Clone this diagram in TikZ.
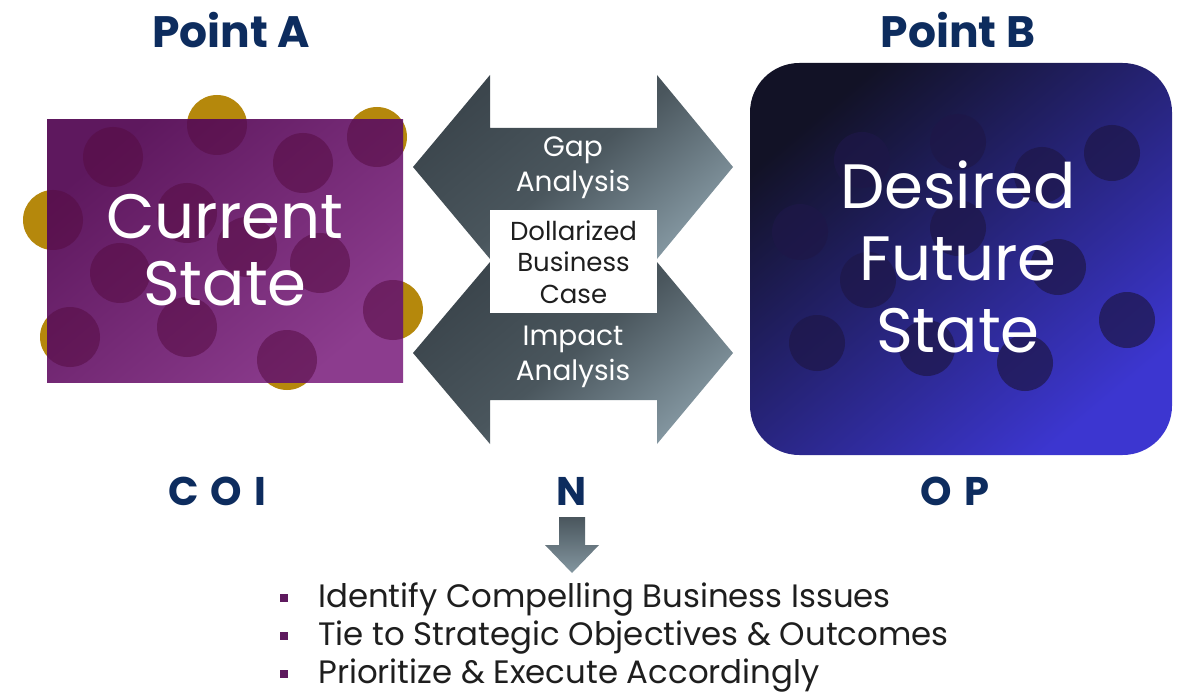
\documentclass[tikz,border=0pt]{standalone}
\usepackage{fontspec}
\setmainfont{Poppins}
\definecolor{navy}{HTML}{0D2C5E}
\definecolor{plumA}{HTML}{5E185E}
\definecolor{plumB}{HTML}{8C3C8E}
\definecolor{plumdot}{HTML}{560C42}
\definecolor{gold}{HTML}{B5880C}
\definecolor{slateA}{HTML}{3B454C}
\definecolor{slateM}{HTML}{4A565D}
\definecolor{slateB}{HTML}{8396A0}
\definecolor{nightA}{HTML}{121226}
\definecolor{nightM}{HTML}{2B2A7C}
\definecolor{nightB}{HTML}{3C36D0}
\definecolor{nightdot}{HTML}{1E1748}
\definecolor{bulletc}{HTML}{5E1A5E}
\definecolor{textc}{HTML}{1E1E1E}
\begin{document}
\begin{tikzpicture}[x=0.75pt,y=-0.75pt,
  heading/.style={font=\fontsize{33}{39}\selectfont\bfseries, text=navy, inner sep=0pt},
  tag/.style={font=\fontsize{30}{36}\selectfont\bfseries, text=navy, inner sep=0pt},
  bigtext/.style={font=\fontsize{47}{54}\selectfont, text=white, align=center, inner sep=0pt},
  arrowtext/.style={font=\fontsize{21}{25}\selectfont, text=white, align=center, inner sep=0pt},
  boxtext/.style={font=\fontsize{19.5}{22.5}\selectfont, text=textc, align=center, inner sep=0pt},
  listtext/.style={font=\fontsize{24.3}{29}\selectfont, text=textc, inner sep=0pt, anchor=base west},
  twoway/.style={top color=slateA, bottom color=slateB, middle color=slateM, shading angle=40},
  goldspot/.style={fill=gold},
  plumspot/.style={fill=plumdot, fill opacity=0.55},
  nightspot/.style={fill=nightdot, fill opacity=0.7},
  bulletsq/.style={fill=bulletc, draw=none, minimum size=6.5pt, inner sep=0pt}
]
\useasboundingbox (0,0) rectangle (1184,695);

% ---------- Point A: current state ----------
\foreach \cx/\cy in {217/125, 377/137, 53/220, 70/337, 287/360, 393/310}
  \fill[goldspot] (\cx,\cy) circle[radius=30];
\path[top color=plumA, bottom color=plumB, shading angle=40] (47,120) rectangle (403,382);
\begin{scope}
  \clip (47,120) rectangle (403,382);
  \foreach \cx/\cy in {113/157, 217/125, 303/163, 377/137, 187/213, 53/220, 247/247,
                       320/263, 120/273, 393/310, 70/337, 187/327, 287/360}
    \fill[plumspot] (\cx,\cy) circle[radius=30];
\end{scope}
\node[bigtext] (cur) at (225,250) {Current\\[-4pt]State};

% ---------- Point B: desired future state ----------
\path[top color=nightA, middle color=nightM, bottom color=nightB, shading angle=40,
      rounded corners=37pt] (750,63) rectangle (1172,455);
\foreach \cx/\cy in {862/160, 958/142, 1042/175, 1112/153, 800/232, 958/228, 868/280,
                     1058/267, 817/343, 927/348, 1025/363, 1127/320}
  \fill[nightspot] (\cx,\cy) circle[radius=28];
\node[bigtext] (fut) at (958,257) {Desired\\[0pt]Future\\[0pt]State};

% ---------- headings ----------
\node[heading] (pa) at (231,30) {Point A};
\node[heading] (pb) at (958,30) {Point B};

% ---------- double arrows ----------
\path[twoway] (413,167) -- (490,75) -- (490,128) -- (657,128) -- (657,75) -- (733,167)
  -- (657,259) -- (657,215) -- (490,215) -- (490,259) -- cycle;
\path[twoway] (413,353) -- (490,262) -- (490,300) -- (657,300) -- (657,262) -- (733,353)
  -- (657,444) -- (657,400) -- (490,400) -- (490,444) -- cycle;
\node[fill=white, minimum width=125.25pt, minimum height=77.25pt, inner sep=0pt] (dbc) at (573.5,261.5) {};
\node[boxtext] (dbct) at (573.5,262) {Dollarized\\[1pt]Business\\[1pt]Case};
\node[arrowtext] (gap) at (573,168) {Gap\\[1pt]Analysis};
\node[arrowtext] (imp) at (573,357) {Impact\\[1pt]Analysis};

% ---------- letters under the panels ----------
\node[tag] (coi) at (217,491) {C\hspace{9pt}O\hspace{9pt}I};
\node[tag] (nn) at (572,491) {N};
\node[tag] (op) at (955,491) {O\hspace{9pt}P};

% ---------- down arrow ----------
\path[top color=slateM, bottom color=slateB] (559,517) -- (585,517) -- (585,545) -- (599,545)
  -- (572,573) -- (545,545) -- (559,545) -- cycle;

% ---------- list ----------
\node[listtext] (l1) at (318,607) {Identify Compelling Business Issues};
\node[listtext] (l2) at (318,645) {Tie to Strategic Objectives \& Outcomes};
\node[listtext] (l3) at (318,683) {Prioritize \& Execute Accordingly};
\node[bulletsq] (s1) at (284,598) {};
\node[bulletsq] (s2) at (284,636) {};
\node[bulletsq] (s3) at (284,674) {};
\end{tikzpicture}
\end{document}
